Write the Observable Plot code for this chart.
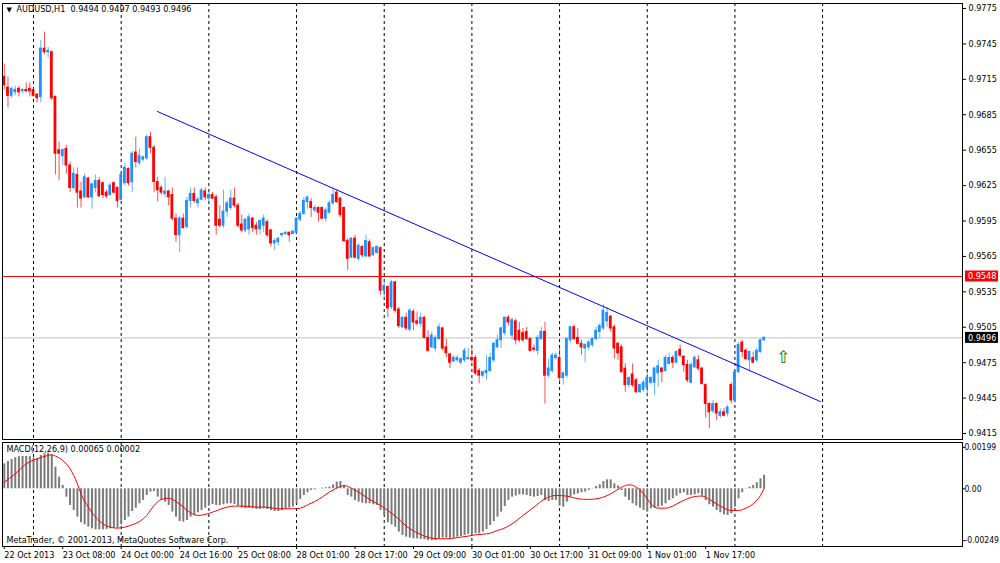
<!DOCTYPE html>
<html><head><meta charset="utf-8">
<script src="https://cdn.jsdelivr.net/npm/d3@7"></script>
<script src="https://cdn.jsdelivr.net/npm/@observablehq/plot@0.6"></script>
<style>
html,body{margin:0;padding:0;background:#fff;}
#chart{position:relative;width:1000px;height:563px;overflow:hidden;background:#fff;}
#chart svg{position:absolute;left:0;display:block;overflow:visible;}
</style></head><body><div id="chart"></div>
<script>
// ---------- data ----------
const headerText = "AUDUSD,H1  0.9494 0.9497 0.9493 0.9496";
const macdText = "MACD(12,26,9) 0.00065 0.00002";
const copyrightText = "MetaTrader, © 2001-2013, MetaQuotes Software Corp.";

const openP = [0.9717,0.9708,0.9701,0.9704,0.9707,0.9705,0.9706,0.9707,0.9706,0.9702,
0.9700,0.9741,0.9738,0.9738,0.9700,0.9655,0.9650,0.9656,0.9642,0.9623,
0.9634,0.9620,0.9615,0.9631,0.9615,0.9623,0.9629,0.9627,0.9619,0.9617,
0.9627,0.9623,0.9613,0.9627,0.9639,0.9628,0.9653,0.9644,0.9647,0.9648,
0.9666,0.9657,0.9628,0.9623,0.9618,0.9620,0.9617,0.9597,0.9583,0.9597,
0.9590,0.9612,0.9618,0.9610,0.9613,0.9620,0.9614,0.9617,0.9615,0.9596,
0.9591,0.9603,0.9606,0.9614,0.9608,0.9592,0.9587,0.9588,0.9597,0.9591,
0.9588,0.9591,0.9594,0.9587,0.9576,0.9577,0.9583,0.9584,0.9585,0.9584,
0.9585,0.9596,0.9601,0.9611,0.9611,0.9604,0.9606,0.9606,0.9597,0.9602,
0.9610,0.9619,0.9614,0.9606,0.9578,0.9564,0.9580,0.9563,0.9573,0.9565,
0.9577,0.9566,0.9568,0.9572,0.9536,0.9539,0.9522,0.9543,0.9520,0.9505,
0.9513,0.9503,0.9518,0.9510,0.9508,0.9513,0.9496,0.9488,0.9487,0.9495,
0.9504,0.9488,0.9482,0.9476,0.9477,0.9475,0.9477,0.9478,0.9479,0.9479,
0.9468,0.9464,0.9466,0.9468,0.9477,0.9488,0.9494,0.9500,0.9513,0.9498,
0.9510,0.9502,0.9500,0.9501,0.9495,0.9487,0.9485,0.9495,0.9501,0.9464,
0.9468,0.9479,0.9479,0.9462,0.9464,0.9494,0.9505,0.9496,0.9491,0.9487,
0.9488,0.9490,0.9495,0.9501,0.9504,0.9510,0.9514,0.9505,0.9491,0.9488,
0.9470,0.9456,0.9465,0.9460,0.9450,0.9452,0.9454,0.9458,0.9458,0.9466,
0.9470,0.9468,0.9474,0.9479,0.9475,0.9486,0.9480,0.9473,0.9458,0.9471,
0.9477,0.9470,0.9456,0.9440,0.9434,0.9440,0.9430,0.9433,0.9432,0.9456,
0.9443,0.9467,0.9492,0.9485,0.9477,0.9479,0.9477,0.9484,0.9494];
const highP = [0.9728,0.9717,0.9708,0.9709,0.9709,0.9707,0.9712,0.9712,0.9707,0.9703,
0.9748,0.9755,0.9742,0.9739,0.9701,0.9662,0.9656,0.9659,0.9645,0.9640,
0.9640,0.9628,0.9635,0.9632,0.9627,0.9634,0.9632,0.9628,0.9621,0.9627,
0.9628,0.9624,0.9636,0.9644,0.9640,0.9654,0.9666,0.9656,0.9650,0.9668,
0.9670,0.9659,0.9632,0.9625,0.9632,0.9621,0.9623,0.9601,0.9599,0.9601,
0.9615,0.9623,0.9623,0.9615,0.9623,0.9623,0.9621,0.9619,0.9617,0.9608,
0.9621,0.9612,0.9621,0.9623,0.9610,0.9600,0.9597,0.9601,0.9598,0.9594,
0.9596,0.9600,0.9596,0.9588,0.9580,0.9581,0.9585,0.9586,0.9586,0.9587,
0.9598,0.9603,0.9615,0.9616,0.9614,0.9608,0.9607,0.9607,0.9606,0.9612,
0.9623,0.9621,0.9615,0.9607,0.9580,0.9581,0.9583,0.9576,0.9574,0.9583,
0.9579,0.9573,0.9574,0.9573,0.9545,0.9540,0.9545,0.9544,0.9522,0.9514,
0.9517,0.9521,0.9520,0.9518,0.9517,0.9514,0.9502,0.9501,0.9498,0.9508,
0.9505,0.9495,0.9483,0.9481,0.9481,0.9479,0.9487,0.9487,0.9487,0.9481,
0.9470,0.9468,0.9481,0.9483,0.9492,0.9498,0.9505,0.9514,0.9515,0.9513,
0.9512,0.9509,0.9504,0.9505,0.9496,0.9490,0.9498,0.9505,0.9509,0.9478,
0.9483,0.9483,0.9487,0.9467,0.9496,0.9506,0.9507,0.9504,0.9494,0.9491,
0.9494,0.9496,0.9505,0.9508,0.9524,0.9522,0.9515,0.9507,0.9492,0.9490,
0.9474,0.9463,0.9474,0.9462,0.9457,0.9460,0.9467,0.9463,0.9471,0.9477,
0.9471,0.9481,0.9483,0.9481,0.9485,0.9490,0.9481,0.9477,0.9475,0.9481,
0.9481,0.9471,0.9457,0.9441,0.9443,0.9441,0.9436,0.9436,0.9439,0.9458,
0.9468,0.9492,0.9494,0.9487,0.9485,0.9484,0.9487,0.9495,0.9497];
const lowP = [0.9706,0.9691,0.9699,0.9701,0.9700,0.9703,0.9704,0.9700,0.9700,0.9695,
0.9695,0.9736,0.9733,0.9697,0.9634,0.9629,0.9642,0.9635,0.9619,0.9621,
0.9606,0.9606,0.9614,0.9614,0.9605,0.9619,0.9615,0.9614,0.9614,0.9616,
0.9618,0.9606,0.9612,0.9625,0.9625,0.9619,0.9640,0.9642,0.9645,0.9646,
0.9652,0.9619,0.9611,0.9617,0.9615,0.9608,0.9595,0.9577,0.9568,0.9588,
0.9588,0.9606,0.9610,0.9606,0.9612,0.9612,0.9610,0.9613,0.9583,0.9589,
0.9589,0.9598,0.9604,0.9606,0.9589,0.9585,0.9585,0.9583,0.9585,0.9583,
0.9583,0.9585,0.9581,0.9573,0.9570,0.9574,0.9581,0.9583,0.9577,0.9583,
0.9584,0.9594,0.9600,0.9605,0.9598,0.9602,0.9594,0.9596,0.9594,0.9601,
0.9608,0.9610,0.9598,0.9577,0.9553,0.9563,0.9563,0.9561,0.9564,0.9564,
0.9564,0.9565,0.9567,0.9532,0.9529,0.9513,0.9520,0.9517,0.9504,0.9504,
0.9502,0.9501,0.9502,0.9506,0.9505,0.9495,0.9484,0.9487,0.9484,0.9494,
0.9485,0.9479,0.9470,0.9475,0.9475,0.9473,0.9475,0.9477,0.9475,0.9464,
0.9457,0.9462,0.9460,0.9467,0.9475,0.9487,0.9487,0.9498,0.9506,0.9494,
0.9490,0.9492,0.9492,0.9494,0.9484,0.9484,0.9481,0.9494,0.9440,0.9462,
0.9466,0.9477,0.9458,0.9456,0.9462,0.9492,0.9494,0.9490,0.9481,0.9475,
0.9485,0.9488,0.9494,0.9495,0.9502,0.9505,0.9501,0.9478,0.9477,0.9466,
0.9450,0.9454,0.9454,0.9449,0.9449,0.9450,0.9446,0.9456,0.9447,0.9454,
0.9458,0.9467,0.9473,0.9470,0.9474,0.9479,0.9467,0.9458,0.9457,0.9470,
0.9468,0.9456,0.9428,0.9419,0.9432,0.9426,0.9428,0.9429,0.9429,0.9440,
0.9441,0.9466,0.9479,0.9477,0.9467,0.9474,0.9475,0.9483,0.9493];
const closeP = [0.9710,0.9701,0.9707,0.9706,0.9704,0.9706,0.9705,0.9705,0.9701,0.9699,
0.9741,0.9738,0.9739,0.9699,0.9652,0.9652,0.9655,0.9642,0.9623,0.9635,
0.9619,0.9614,0.9632,0.9615,0.9626,0.9629,0.9616,0.9617,0.9616,0.9625,
0.9619,0.9612,0.9634,0.9640,0.9627,0.9652,0.9645,0.9650,0.9649,0.9666,
0.9657,0.9628,0.9621,0.9619,0.9620,0.9615,0.9597,0.9583,0.9597,0.9589,
0.9612,0.9618,0.9612,0.9613,0.9621,0.9615,0.9617,0.9614,0.9591,0.9591,
0.9603,0.9610,0.9614,0.9608,0.9591,0.9587,0.9596,0.9598,0.9589,0.9588,
0.9595,0.9597,0.9583,0.9576,0.9578,0.9580,0.9584,0.9585,0.9583,0.9586,
0.9597,0.9601,0.9612,0.9615,0.9606,0.9606,0.9602,0.9597,0.9604,0.9610,
0.9617,0.9611,0.9600,0.9578,0.9563,0.9580,0.9564,0.9574,0.9566,0.9578,
0.9565,0.9572,0.9573,0.9536,0.9540,0.9521,0.9543,0.9519,0.9506,0.9513,
0.9504,0.9519,0.9509,0.9508,0.9513,0.9496,0.9485,0.9498,0.9496,0.9505,
0.9487,0.9483,0.9475,0.9479,0.9479,0.9478,0.9485,0.9479,0.9477,0.9466,
0.9464,0.9467,0.9468,0.9479,0.9491,0.9494,0.9504,0.9513,0.9509,0.9511,
0.9494,0.9494,0.9494,0.9495,0.9485,0.9486,0.9496,0.9501,0.9464,0.9470,
0.9481,0.9481,0.9462,0.9466,0.9495,0.9505,0.9495,0.9491,0.9488,0.9490,
0.9492,0.9495,0.9502,0.9506,0.9519,0.9517,0.9504,0.9487,0.9483,0.9467,
0.9456,0.9462,0.9456,0.9450,0.9456,0.9458,0.9462,0.9462,0.9470,0.9472,
0.9467,0.9479,0.9479,0.9475,0.9484,0.9481,0.9473,0.9460,0.9473,0.9479,
0.9470,0.9457,0.9440,0.9433,0.9440,0.9432,0.9433,0.9430,0.9437,0.9443,
0.9467,0.9490,0.9484,0.9478,0.9484,0.9475,0.9485,0.9494,0.9496];

const macdMain = [0.00120,0.00131,0.00141,0.00149,0.00154,0.00155,0.00155,0.00154,0.00147,0.00144,
0.00160,0.00168,0.00171,0.00163,0.00104,0.00056,0.00016,-0.00040,-0.00080,-0.00104,
-0.00136,-0.00163,-0.00173,-0.00184,-0.00192,-0.00197,-0.00197,-0.00197,-0.00195,-0.00192,
-0.00189,-0.00189,-0.00173,-0.00152,-0.00136,-0.00109,-0.00093,-0.00072,-0.00056,-0.00032,
-0.00016,-0.00013,-0.00040,-0.00056,-0.00064,-0.00080,-0.00112,-0.00136,-0.00157,-0.00160,
-0.00152,-0.00136,-0.00128,-0.00115,-0.00104,-0.00093,-0.00083,-0.00075,-0.00080,-0.00080,
-0.00077,-0.00072,-0.00072,-0.00075,-0.00083,-0.00093,-0.00096,-0.00093,-0.00096,-0.00099,
-0.00099,-0.00096,-0.00099,-0.00104,-0.00109,-0.00109,-0.00104,-0.00099,-0.00093,-0.00088,
-0.00072,-0.00051,-0.00032,-0.00019,-0.00008,-0.00005,-0.00001,0.00003,0.00005,0.00008,
0.00019,0.00032,0.00035,0.00016,-0.00032,-0.00040,-0.00056,-0.00064,-0.00069,-0.00072,
-0.00072,-0.00077,-0.00080,-0.00104,-0.00128,-0.00163,-0.00173,-0.00184,-0.00208,-0.00224,
-0.00232,-0.00237,-0.00240,-0.00240,-0.00243,-0.00245,-0.00249,-0.00249,-0.00248,-0.00240,
-0.00237,-0.00237,-0.00237,-0.00237,-0.00232,-0.00229,-0.00224,-0.00219,-0.00214,-0.00216,
-0.00216,-0.00208,-0.00195,-0.00176,-0.00157,-0.00136,-0.00112,-0.00085,-0.00056,-0.00040,
-0.00035,-0.00029,-0.00029,-0.00032,-0.00037,-0.00040,-0.00037,-0.00032,-0.00056,-0.00061,
-0.00056,-0.00056,-0.00083,-0.00088,-0.00064,-0.00040,-0.00029,-0.00024,-0.00019,-0.00016,
-0.00008,-0.00001,0.00011,0.00019,0.00035,0.00043,0.00043,0.00024,0.00013,-0.00008,
-0.00040,-0.00056,-0.00072,-0.00083,-0.00093,-0.00104,-0.00112,-0.00096,-0.00093,-0.00088,
-0.00083,-0.00072,-0.00056,-0.00048,-0.00035,-0.00024,-0.00019,-0.00032,-0.00032,-0.00029,
-0.00024,-0.00035,-0.00056,-0.00077,-0.00088,-0.00104,-0.00115,-0.00125,-0.00128,-0.00120,
-0.00088,-0.00048,-0.00019,0.00002,0.00008,0.00016,0.00029,0.00048,0.00065];

const signalIdx = [0,3,6,9,12,13,14,16,18,20,21,23,25,27,29,31,33,35,37,39,41,43,45,47,49,51,53,55,57,59,
61,63,65,67,69,71,73,75,77,79,81,83,85,87,89,91,93,95,97,99,101,103,105,107,109,111,113,115,117,119,
121,123,125,127,129,131,133,135,136,139,142,145,148,151,154,157,160,163,166,169,171,173,175,177,179,181,183,185,187,189,
191,193,195,197,199,201,203,205,207,208];
const signalVal = [0.00032,0.00072,0.00120,0.00144,0.00160,0.00163,0.00157,0.00136,0.00096,0.00024,-0.00024,-0.00088,-0.00136,-0.00168,-0.00184,-0.00189,-0.00184,-0.00173,-0.00157,-0.00128,
-0.00080,-0.00051,-0.00045,-0.00061,-0.00088,-0.00115,-0.00128,-0.00123,-0.00112,-0.00099,
-0.00088,-0.00083,-0.00083,-0.00085,-0.00088,-0.00088,-0.00091,-0.00096,-0.00096,-0.00096,
-0.00093,-0.00077,-0.00061,-0.00040,-0.00016,0.00003,0.00016,0.00003,-0.00016,-0.00040,
-0.00061,-0.00080,-0.00104,-0.00131,-0.00163,-0.00192,-0.00211,-0.00227,-0.00237,-0.00240,
-0.00240,-0.00237,-0.00232,-0.00227,-0.00221,-0.00218,-0.00213,-0.00200,-0.00195,-0.00168,
-0.00128,-0.00088,-0.00048,-0.00032,-0.00035,-0.00048,-0.00051,-0.00045,-0.00024,0.00008,
0.00019,0.00008,-0.00024,-0.00072,-0.00093,-0.00093,-0.00083,-0.00064,-0.00048,-0.00037,
-0.00035,-0.00051,-0.00072,-0.00093,-0.00104,-0.00104,-0.00093,-0.00072,-0.00032,0.00002];

const separatorIdx = [8,32,56,80,104,128,152,176,200,224];
const timeTickIdx = [0,16,32,48,64,80,96,112,128,144,160,176,192];
const timeTickLabels = ["22 Oct 2013","23 Oct 08:00","24 Oct 00:00","24 Oct 16:00","25 Oct 08:00",
"28 Oct 01:00","28 Oct 17:00","29 Oct 09:00","30 Oct 01:00","30 Oct 17:00","31 Oct 09:00","1 Nov 01:00","1 Nov 17:00"];
const priceTicks = [0.9775,0.9745,0.9715,0.9685,0.9655,0.9625,0.9595,0.9565,0.9535,0.9505,0.9475,0.9445,0.9415];
const macdTicks = [0.00199, 0, -0.00249];
const macdTickLabels = ["0.00199","0.00","-0.00249"];
const levelPrice = 0.9548;
const bidPrice = 0.9496;
const trendIdx = [41.9, 223.4];
const trendPrice = [0.96878, 0.94421];
const arrowIdx = [213.3];
const arrowPrice = [0.9479];

// ---------- build ----------
const FONT = "'DejaVu Sans Condensed','Liberation Sans',Arial,sans-serif";
const BULL = "#1e90ff", BEAR = "#ff0000";
const xDomain = [-0.493, 262.3];

const candles = openP.map((o, i) => ({i, open: o, high: highP[i], low: lowP[i], close: closeP[i]}));
const bulls = candles.filter(d => d.close >= d.open);
const bears = candles.filter(d => d.close < d.open);
const trend = trendIdx.map((x, k) => ({x, p: trendPrice[k]}));
const arrow = arrowIdx.map((x, k) => ({x, p: arrowPrice[k]}));
const hist = macdMain.map((v, i) => ({i, v}));
const signal = signalIdx.map((i, k) => ({i, v: signalVal[k]}));
const timeLabelMap = new Map(timeTickIdx.map((i, k) => [i, timeTickLabels[k]]));
const macdLabelMap = new Map(macdTicks.map((t, k) => [t, macdTickLabels[k]]));

function candleMarks(data, color) {
  return [
    Plot.ruleX(data, {x: "i", y1: "low", y2: "high", stroke: color, strokeOpacity: 0.7, clip: true}),
    Plot.rect(data, {x1: d => d.i - 0.38, x2: d => d.i + 0.38,
      y1: d => Math.min(d.open, d.close), y2: d => Math.max(d.open, d.close),
      fill: color, insetTop: -0.5, insetBottom: -0.5, clip: true})
  ];
}

const main = Plot.plot({
  width: 1000, height: 440,
  marginLeft: 2, marginRight: 38, marginTop: 3, marginBottom: 1,
  x: {domain: xDomain, axis: null},
  y: {domain: [0.940993, 0.977924], axis: null},
  style: {fontFamily: FONT, fontSize: "9px", background: "transparent", color: "#000"},
  marks: [
    Plot.ruleX(separatorIdx, {x: d => d, stroke: "#000", strokeDasharray: "3,3", clip: true}),
    Plot.ruleY([levelPrice], {y: d => d, stroke: "#ff0000", strokeWidth: 1}),
    Plot.ruleY([bidPrice], {y: d => d, stroke: "#c0c0c0", strokeWidth: 1}),
    ...candleMarks(bears, BEAR),
    ...candleMarks(bulls, BULL),
    Plot.line(trend, {x: "x", y: "p", stroke: "#0000ff", strokeWidth: 1}),
    Plot.text(arrow, {x: "x", y: "p", text: () => "⇧", fill: "#008000", fontSize: 17, fontFamily: "DejaVu Sans"}),
    Plot.text([headerText], {frameAnchor: "top-left", text: d => d, dx: 14, dy: 2, lineAnchor: "top", textAnchor: "start", fill: "#000"}),
    Plot.text(["▼"], {frameAnchor: "top-left", text: d => d, dx: 4, dy: 4, lineAnchor: "top", textAnchor: "start", fill: "#000", fontSize: 7, fontFamily: "DejaVu Sans"}),
    Plot.axisY(priceTicks, {anchor: "right", tickSize: 3, tickPadding: 3, tickFormat: d => d.toFixed(4), label: null, fontSize: 9}),
    Plot.frame({stroke: "#000"})
  ]
});
main.style.top = "0px";

const macd = Plot.plot({
  width: 1000, height: 123,
  marginLeft: 2, marginRight: 38, marginTop: 2, marginBottom: 17,
  x: {domain: xDomain, axis: null},
  y: {domain: [-0.00277, 0.002222], axis: null},
  style: {fontFamily: FONT, fontSize: "9px", background: "transparent", color: "#000"},
  marks: [
    Plot.ruleX(separatorIdx, {x: d => d, stroke: "#000", strokeDasharray: "3,3", clip: true}),
    Plot.text([macdText], {frameAnchor: "top-left", text: d => d, dx: 4, dy: 3, lineAnchor: "top", textAnchor: "start", fill: "#000"}),
    Plot.text([copyrightText], {frameAnchor: "bottom-left", text: d => d, dx: 4, dy: -4, lineAnchor: "bottom", textAnchor: "start", fill: "#000"}),
    Plot.ruleX(hist, {x: "i", y1: 0, y2: "v", stroke: "#7a7a7a", strokeWidth: 2, clip: true}),
    Plot.line(signal, {x: "i", y: "v", stroke: "#ff0000", strokeWidth: 1, curve: "monotone-x"}),
    Plot.axisY(macdTicks, {anchor: "right", tickSize: 2, tickPadding: 0, tickFormat: d => macdLabelMap.get(d), label: null, fontSize: 8.5}),
    Plot.axisX(timeTickIdx, {anchor: "bottom", tickSize: 3, tickPadding: 2, textAnchor: "start",
      tickFormat: d => timeLabelMap.get(d), label: null, fontSize: 9}),
    Plot.frame({stroke: "#000"})
  ]
});
macd.style.top = "440px";

const chart = document.getElementById("chart");
chart.appendChild(main);
chart.appendChild(macd);

// price tags on the right axis (positioned with the plot's own y scale)
const yScale = main.scale("y");
const svg = d3.select(main);
[[levelPrice, "#ff0000"], [bidPrice, "#000000"]].forEach(([p, bg]) => {
  const yy = yScale.apply(p);
  svg.append("rect").attr("x", 965).attr("y", yy - 5.5).attr("width", 33).attr("height", 11).attr("fill", bg);
  svg.append("text").attr("x", 968).attr("y", yy).attr("dy", "0.35em")
    .attr("text-anchor", "start")
    .attr("fill", "#fff").attr("font-size", 9).attr("font-family", FONT).text(p.toFixed(4));
});
</script></body></html>
